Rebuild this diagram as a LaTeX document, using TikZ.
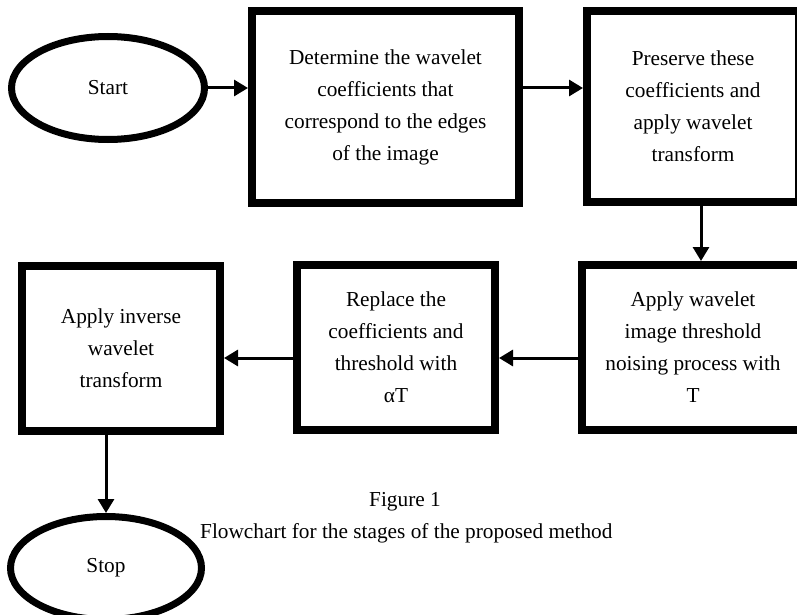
\documentclass[tikz,border=0pt]{standalone}
\usepackage{fontspec}
\setmainfont{Liberation Serif}
\usetikzlibrary{arrows.meta,shapes.geometric}
\begin{document}
\begin{tikzpicture}[x=1pt,y=-1pt,
  box/.style={draw,line width=8pt,rectangle,inner sep=0pt,align=center,
    font=\fontsize{21.3}{32}\selectfont},
  term/.style={draw,line width=7pt,ellipse,inner sep=0pt,
    font=\fontsize{21.3}{32}\selectfont},
  flow/.style={line width=3pt,-{Triangle[length=14pt,width=16pt]}},
  captext/.style={inner sep=0pt,font=\fontsize{21.3}{32}\selectfont}]
\useasboundingbox (0,0) rectangle (797,615);
\fill[white] (0,0) rectangle (797,615);

\node[term,minimum width=193pt,minimum height=103pt] (start) at (108,88) {Start};
\node[box,minimum width=267pt,minimum height=192pt] (b1) at (385.5,107)
  {Determine the wavelet\\coefficients that\\correspond to the edges\\of the image};
\node[box,minimum width=212pt,minimum height=191pt] (b2) at (693,106.5)
  {Preserve these\\coefficients and\\apply wavelet\\transform};
\node[box,minimum width=222pt,minimum height=165pt] (b3) at (693,347.5)
  {Apply wavelet\\image threshold\\noising process with\\T};
\node[box,minimum width=198pt,minimum height=165pt] (r) at (396,347.5)
  {Replace the\\coefficients and\\threshold with\\αT};
\node[box,minimum width=198pt,minimum height=165pt] (b4) at (121,348)
  {Apply inverse\\wavelet\\transform};
\node[term,minimum width=191pt,minimum height=103pt] (stop) at (106,568) {Stop};

\draw[flow] (start.east) -- (start.east -| b1.west);
\draw[flow] (b1.east |- start.east) -- (b2.west |- start.east);
\draw[flow] ([xshift=8pt]b2.south) -- ([xshift=8pt]b2.south |- b3.north);
\draw[flow] ([yshift=-10.5pt]b3.west) -- ([yshift=-10.5pt]b3.west -| r.east);
\draw[flow] ([yshift=-10.5pt]r.west) -- ([yshift=-10.5pt]r.west -| b4.east);
\draw[flow] (b4.south -| stop.north) -- (stop.north);

\node[captext,anchor=base] (fig) at (405,506) {Figure 1};
\node[captext,anchor=base west] (figcap) at (200,538) {Flowchart for the stages of the proposed method};
\end{tikzpicture}
\end{document}
